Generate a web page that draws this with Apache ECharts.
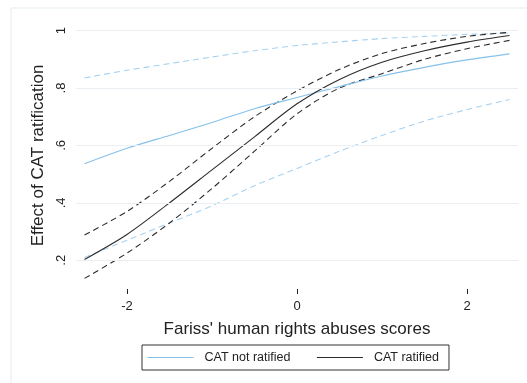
<!DOCTYPE html>
<html>
<head>
<meta charset="utf-8">
<script src="https://cdn.jsdelivr.net/npm/echarts@6/dist/echarts.min.js"></script>
<style>
  html, body { margin: 0; padding: 0; background: #fff; }
  #chartBox { width: 527px; height: 383px; }
</style>
</head>
<body>
<div id="chartBox"></div>
<script>
  // x positions (Fariss scores)
  var scores = [-2.5, -2, -1.5, -1, -0.5, 0, 0.5, 1, 1.5, 2, 2.5];

  // CAT not ratified: estimate + 95% band
  var notRatified      = [0.536, 0.59, 0.635, 0.68, 0.728, 0.767, 0.805, 0.842, 0.872, 0.898, 0.919];
  var notRatifiedUpper = [0.835, 0.862, 0.885, 0.908, 0.93, 0.948, 0.961, 0.972, 0.98, 0.987, 0.992];
  var notRatifiedLower = [0.21, 0.27, 0.33, 0.39, 0.46, 0.52, 0.58, 0.635, 0.685, 0.725, 0.76];

  // CAT ratified: estimate + 95% band
  var ratified      = [0.203, 0.29, 0.40, 0.515, 0.63, 0.745, 0.83, 0.89, 0.93, 0.96, 0.983];
  var ratifiedUpper = [0.288, 0.37, 0.475, 0.59, 0.70, 0.79, 0.865, 0.92, 0.955, 0.98, 0.994];
  var ratifiedLower = [0.137, 0.225, 0.33, 0.45, 0.58, 0.71, 0.80, 0.85, 0.90, 0.937, 0.966];

  var xTicks = [-2, 0, 2];
  var yTicks = [0.2, 0.4, 0.6, 0.8, 1];

  function pairs(vals) {
    return scores.map(function (x, i) { return [x, vals[i]]; });
  }

  var blue = '#86c1ea';
  var blueDash = '#a6d2f1';
  var black = '#2b2b2b';
  var font = 'Liberation Sans, Arial, sans-serif';

  function line(name, vals, color, dashed, extra) {
    var s = {
      name: name,
      type: 'line',
      data: pairs(vals),
      symbol: 'none',
      smooth: 0.3,
      silent: true,
      itemStyle: { color: color },
      lineStyle: { color: color, width: 1.1, type: dashed ? [6, 4] : 'solid' },
      z: dashed ? 2 : 3
    };
    return Object.assign(s, extra || {});
  }

  var chartLine = echarts.init(document.getElementById('chartBox'));

  var option = {
    animation: false,
    backgroundColor: '#fff',
    textStyle: { fontFamily: font },
    graphic: [{
      type: 'rect',
      shape: { x: 11, y: 8, width: 540, height: 400 },
      style: { fill: 'none', stroke: '#e2ebf0', lineWidth: 1 },
      silent: true
    }],
    grid: { left: 76, right: 9, top: 22, bottom: 94 },
    legend: {
      data: ['CAT not ratified', 'CAT ratified'],
      left: 142,
      top: 345,
      orient: 'horizontal',
      itemWidth: 46,
      itemHeight: 10,
      itemGap: 26,
      padding: [6, 10, 6, 5],
      borderColor: '#333',
      borderWidth: 1,
      borderRadius: 0,
      itemStyle: { opacity: 0 },
      lineStyle: { width: 1 },
      textStyle: { fontSize: 12.5, color: '#222', fontFamily: font, padding: [0, 0, 0, 6] }
    },
    xAxis: {
      type: 'value',
      min: -2.6,
      max: 2.6,
      name: "Fariss' human rights abuses scores",
      nameLocation: 'middle',
      nameGap: 32,
      nameTextStyle: { fontSize: 17, color: '#222', fontFamily: font },
      axisLine: { show: false },
      axisTick: { show: true, customValues: xTicks, length: 5, lineStyle: { color: '#222' } },
      axisLabel: { customValues: xTicks, fontSize: 13, color: '#222', margin: 11,
        formatter: function (v) { return String(v); } },
      splitLine: { show: false }
    },
    yAxis: {
      type: 'value',
      min: 0.1,
      max: 1.03,
      name: 'Effect of CAT ratification',
      nameLocation: 'middle',
      nameGap: 29,
      nameTextStyle: { fontSize: 17, color: '#222', fontFamily: font },
      axisLine: { show: false },
      axisTick: { show: true, customValues: yTicks, length: 4, lineStyle: { color: '#222' } },
      axisLabel: { customValues: yTicks, rotate: 90, fontSize: 13, color: '#222', margin: 8,
        formatter: function (v) {
          if (v === 1) return '1';
          return String(v).replace(/^0/, '');
        } },
      splitLine: { show: false }
    },
    series: [
      line('CAT not ratified', notRatified, blue, false, {
        markLine: {
          silent: true,
          symbol: 'none',
          label: { show: false },
          lineStyle: { color: '#e9eff3', width: 1, type: 'solid' },
          data: yTicks.map(function (v) { return { yAxis: v }; })
        },
        z: 3
      }),
      line('nrUpper', notRatifiedUpper, blueDash, true),
      line('nrLower', notRatifiedLower, blueDash, true),
      line('CAT ratified', ratified, black, false),
      line('rUpper', ratifiedUpper, black, true),
      line('rLower', ratifiedLower, black, true)
    ]
  };

  chartLine.setOption(option);
  window.onresize = chartLine.resize;
</script>
</body>
</html>
